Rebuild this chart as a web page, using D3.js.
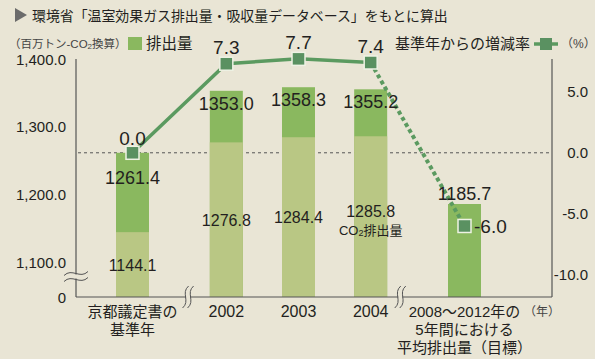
<!DOCTYPE html>
<html>
<head>
<meta charset="utf-8">
<script src="https://cdn.jsdelivr.net/npm/d3@7"></script>
<style>
  body { margin: 0; background: #e9e5d5; }
  svg { display: block; font-family: "Liberation Sans", "Noto Sans CJK JP", sans-serif; }
</style>
</head>
<body>
<svg id="chart" width="595" height="359"></svg>
<script>
// ---- data ----
const categories = ["base", "2002", "2003", "2004", "target"];
const categoryLines = [
  ["京都議定書の", "基準年"],
  ["2002"],
  ["2003"],
  ["2004"],
  ["2008～2012年の", "5年間における", "平均排出量（目標）"]
];
const totalEmissions = [1261.4, 1353.0, 1358.3, 1355.2, 1185.7]; // 百万トン-CO2換算
const co2Emissions   = [1144.1, 1276.8, 1284.4, 1285.8, null];
const changeRate     = [0.0, 7.3, 7.7, 7.4, -6.0];               // %
const leftTicks  = [0, 1100, 1200, 1300, 1400];
const rightTicks = [5, 0, -5, -10];
const breaksAfter = ["base", "2004"]; // x-axis is broken after these categories

// ---- layout ----
const W = 595, H = 359;
const plot = { left: 76, right: 552, top: 59, bottom: 297 };
const colors = {
  bg: "#e9e5d5", total: "#8ab85f", co2: "#b9c784",
  line: "#5b9a60", marker: "#5a9161", axis: "#555", text: "#231f20"
};
const breakGap = 0.3;

// plain hyphen for negatives
const locale = d3.formatLocale({ decimal: ".", thousands: ",", grouping: [3], currency: ["", ""], minus: "-" });
const fmt1 = locale.format(".1f");
const fmtComma = locale.format(",.1f");

const svg = d3.select("#chart");
svg.append("rect").attr("width", W).attr("height", H).attr("fill", colors.bg);

// slot index with extra room where the axis is broken
const slot = categories.map((c, i) =>
  i + breakGap * categories.slice(0, i).filter(k => breaksAfter.includes(k)).length);
const x = d3.scaleLinear()
  .domain([0, d3.max(slot)])
  .range([132.5, 464.5]);
const barW = 33;

// left: broken axis, 0 at the bottom then 1,100 – 1,400
const y = d3.scaleLinear()
  .domain([0, 1100, 1400])
  .range([plot.bottom, 262, plot.top]);

// right: change from base year, 0 % level with the base-year total
const yPct = d3.scaleLinear()
  .domain([-10, 0])
  .range([y(totalEmissions[0]) + 122, y(totalEmissions[0])]);

// ---- zero line ----
svg.append("line")
  .attr("x1", plot.left + 2).attr("x2", plot.right)
  .attr("y1", yPct(0)).attr("y2", yPct(0))
  .attr("stroke", colors.axis).attr("stroke-width", 1)
  .attr("stroke-dasharray", "3,3");

// ---- bars ----
const rows = categories.map((c, i) => ({
  c, i, cx: x(slot[i]), total: totalEmissions[i], co2: co2Emissions[i], pct: changeRate[i]
}));

const barG = svg.append("g");
barG.selectAll("rect.total").data(rows).join("rect")
  .attr("class", "total")
  .attr("x", d => d.cx - barW / 2).attr("width", barW)
  .attr("y", d => y(d.total)).attr("height", d => plot.bottom - y(d.total))
  .attr("fill", colors.total);
barG.selectAll("rect.co2").data(rows.filter(d => d.co2 != null)).join("rect")
  .attr("class", "co2")
  .attr("x", d => d.cx - barW / 2).attr("width", barW)
  .attr("y", d => y(d.co2)).attr("height", d => plot.bottom - y(d.co2))
  .attr("fill", colors.co2);

// ---- axes ----
const axG = svg.append("g").attr("stroke", colors.axis).attr("stroke-width", 1.2);
axG.append("line").attr("x1", plot.left).attr("x2", plot.left).attr("y1", plot.top).attr("y2", plot.bottom);
axG.append("line").attr("x1", plot.right).attr("x2", plot.right).attr("y1", plot.top).attr("y2", plot.bottom);
axG.append("line").attr("x1", plot.left).attr("x2", plot.right).attr("y1", plot.bottom).attr("y2", plot.bottom);

const fmtLeft = d => d === 0 ? "0" : fmtComma(d);
svg.append("g").selectAll("text").data(leftTicks).join("text")
  .attr("x", plot.left - 10).attr("y", d => y(d) + 5.5)
  .attr("text-anchor", "end").attr("font-size", 15).attr("fill", colors.text)
  .text(fmtLeft);

svg.append("g").selectAll("text").data(rightTicks).join("text")
  .attr("x", 588).attr("y", d => yPct(d) + 5.5)
  .attr("text-anchor", "end").attr("font-size", 15).attr("fill", colors.text)
  .text(d => fmt1(d));

// break marks
function vBreak(cx, cy) {
  const g = svg.append("g");
  g.append("rect").attr("x", cx - 2).attr("y", cy - 6).attr("width", 4).attr("height", 12).attr("fill", colors.bg);
  [-2.5, 2.5].forEach(o => {
    g.append("path")
      .attr("d", `M${cx + o + 3},${cy - 11} C${cx + o - 5},${cy - 4} ${cx + o + 5},${cy + 4} ${cx + o - 3},${cy + 11}`)
      .attr("fill", "none").attr("stroke", colors.axis).attr("stroke-width", 1);
  });
}
breaksAfter.forEach(c => {
  const i = categories.indexOf(c);
  const frac = i === 0 ? 0.77 : 0.41;
  vBreak(x(slot[i] + frac), plot.bottom);
});
(function hBreak(cx, cy) {
  const g = svg.append("g");
  g.append("rect").attr("x", cx - 3).attr("y", cy - 2).attr("width", 6).attr("height", 4).attr("fill", colors.bg);
  [-3, 3].forEach(o => {
    g.append("path")
      .attr("d", `M${cx - 12},${cy + o + 2} C${cx - 4},${cy + o - 6} ${cx + 4},${cy + o + 6} ${cx + 12},${cy + o - 2}`)
      .attr("fill", "none").attr("stroke", colors.axis).attr("stroke-width", 1);
  });
})(plot.left, (y(0) + y(1100)) / 2 - 3);

// ---- change-rate line ----
const line = d3.line().x(d => d.cx).y(d => yPct(d.pct));
const lastActual = 3;
svg.append("path").datum(rows.slice(0, lastActual + 1))
  .attr("d", line).attr("fill", "none")
  .attr("stroke", colors.line).attr("stroke-width", 3.5);
svg.append("path").datum(rows.slice(lastActual))
  .attr("d", line).attr("fill", "none")
  .attr("stroke", colors.line).attr("stroke-width", 4)
  .attr("stroke-dasharray", "4,3");
const mk = 13;
svg.append("g").selectAll("rect").data(rows).join("rect")
  .attr("x", d => d.cx - mk / 2).attr("y", d => yPct(d.pct) - mk / 2)
  .attr("width", mk).attr("height", mk)
  .attr("fill", colors.marker).attr("stroke", "#eef2e4").attr("stroke-width", 1.5);

// ---- value labels ----
const lab = svg.append("g").attr("fill", colors.text);
// change rate
rows.forEach(d => {
  const t = lab.append("text").attr("font-size", 19).text(fmt1(d.pct));
  if (d.c === "target") {
    t.attr("x", d.cx + mk / 2 + 3).attr("y", yPct(d.pct) + 7).attr("text-anchor", "start");
  } else {
    t.attr("x", d.cx).attr("y", yPct(d.pct) - (d.i === 0 ? 8 : 10)).attr("text-anchor", "middle");
  }
});
// totals
rows.forEach(d => {
  let ty;
  if (d.c === "target") ty = y(d.total) - 4;
  else if (d.i === 0) ty = y(d.total) + 31;
  else ty = y(d.total) + 19;
  lab.append("text").attr("x", d.cx).attr("y", ty)
    .attr("text-anchor", "middle").attr("font-size", 18)
    .text(fmt1(d.total));
});
// CO2 only
rows.filter(d => d.co2 != null).forEach(d => {
  const mid = (y(d.co2) + plot.bottom) / 2;
  const lastBar = d.c === "2004";
  lab.append("text").attr("x", d.cx).attr("y", mid + (lastBar ? 0 : 6))
    .attr("text-anchor", "middle").attr("font-size", 16)
    .text(fmt1(d.co2));
  if (lastBar) {
    const t = lab.append("text").attr("x", d.cx).attr("y", mid + 18)
      .attr("text-anchor", "middle").attr("font-size", 13);
    t.append("tspan").text("CO");
    t.append("tspan").attr("font-size", 9).attr("dy", 1).text("2");
    t.append("tspan").attr("dy", -1).text("排出量");
  }
});

// ---- category labels ----
rows.forEach(d => {
  const t = lab.append("text").attr("text-anchor", "middle")
    .attr("font-size", categoryLines[d.i].length > 1 ? 15 : 16);
  categoryLines[d.i].forEach((s, k) => {
    t.append("tspan").attr("x", d.cx).attr("y", 317 + k * 18).text(s);
  });
});
lab.append("text").attr("x", 542).attr("y", 316).attr("text-anchor", "middle")
  .attr("font-size", 12).attr("fill", "#444").text("（年）");

// ---- title ----
svg.append("path").attr("d", "M15,8 L27,15 L15,22 Z").attr("fill", "#6b6b6b");
svg.append("text").attr("x", 32).attr("y", 21).attr("font-size", 13.9)
  .attr("fill", colors.text)
  .text("環境省「温室効果ガス排出量・吸収量データベース」をもとに算出");

// ---- unit & legends ----
const unit = svg.append("text").attr("x", 9).attr("y", 48).attr("font-size", 11.5).attr("fill", "#444");
unit.append("tspan").text("（百万トン-CO");
unit.append("tspan").attr("font-size", 8).attr("dy", 1).text("2");
unit.append("tspan").attr("dy", -1).text("換算）");

svg.append("rect").attr("x", 128).attr("y", 37).attr("width", 14).attr("height", 13).attr("fill", colors.total);
svg.append("text").attr("x", 146).attr("y", 49).attr("font-size", 15.5).attr("fill", colors.text).text("排出量");

svg.append("text").attr("x", 395).attr("y", 49).attr("font-size", 15).attr("fill", colors.text).text("基準年からの増減率");
svg.append("line").attr("x1", 534).attr("x2", 558).attr("y1", 44).attr("y2", 44)
  .attr("stroke", colors.line).attr("stroke-width", 3.5);
svg.append("rect").attr("x", 540).attr("y", 38).attr("width", 12).attr("height", 12).attr("fill", colors.marker);
svg.append("text").attr("x", 561).attr("y", 48).attr("font-size", 12).attr("fill", "#444").text("（%）");
</script>
</body>
</html>
